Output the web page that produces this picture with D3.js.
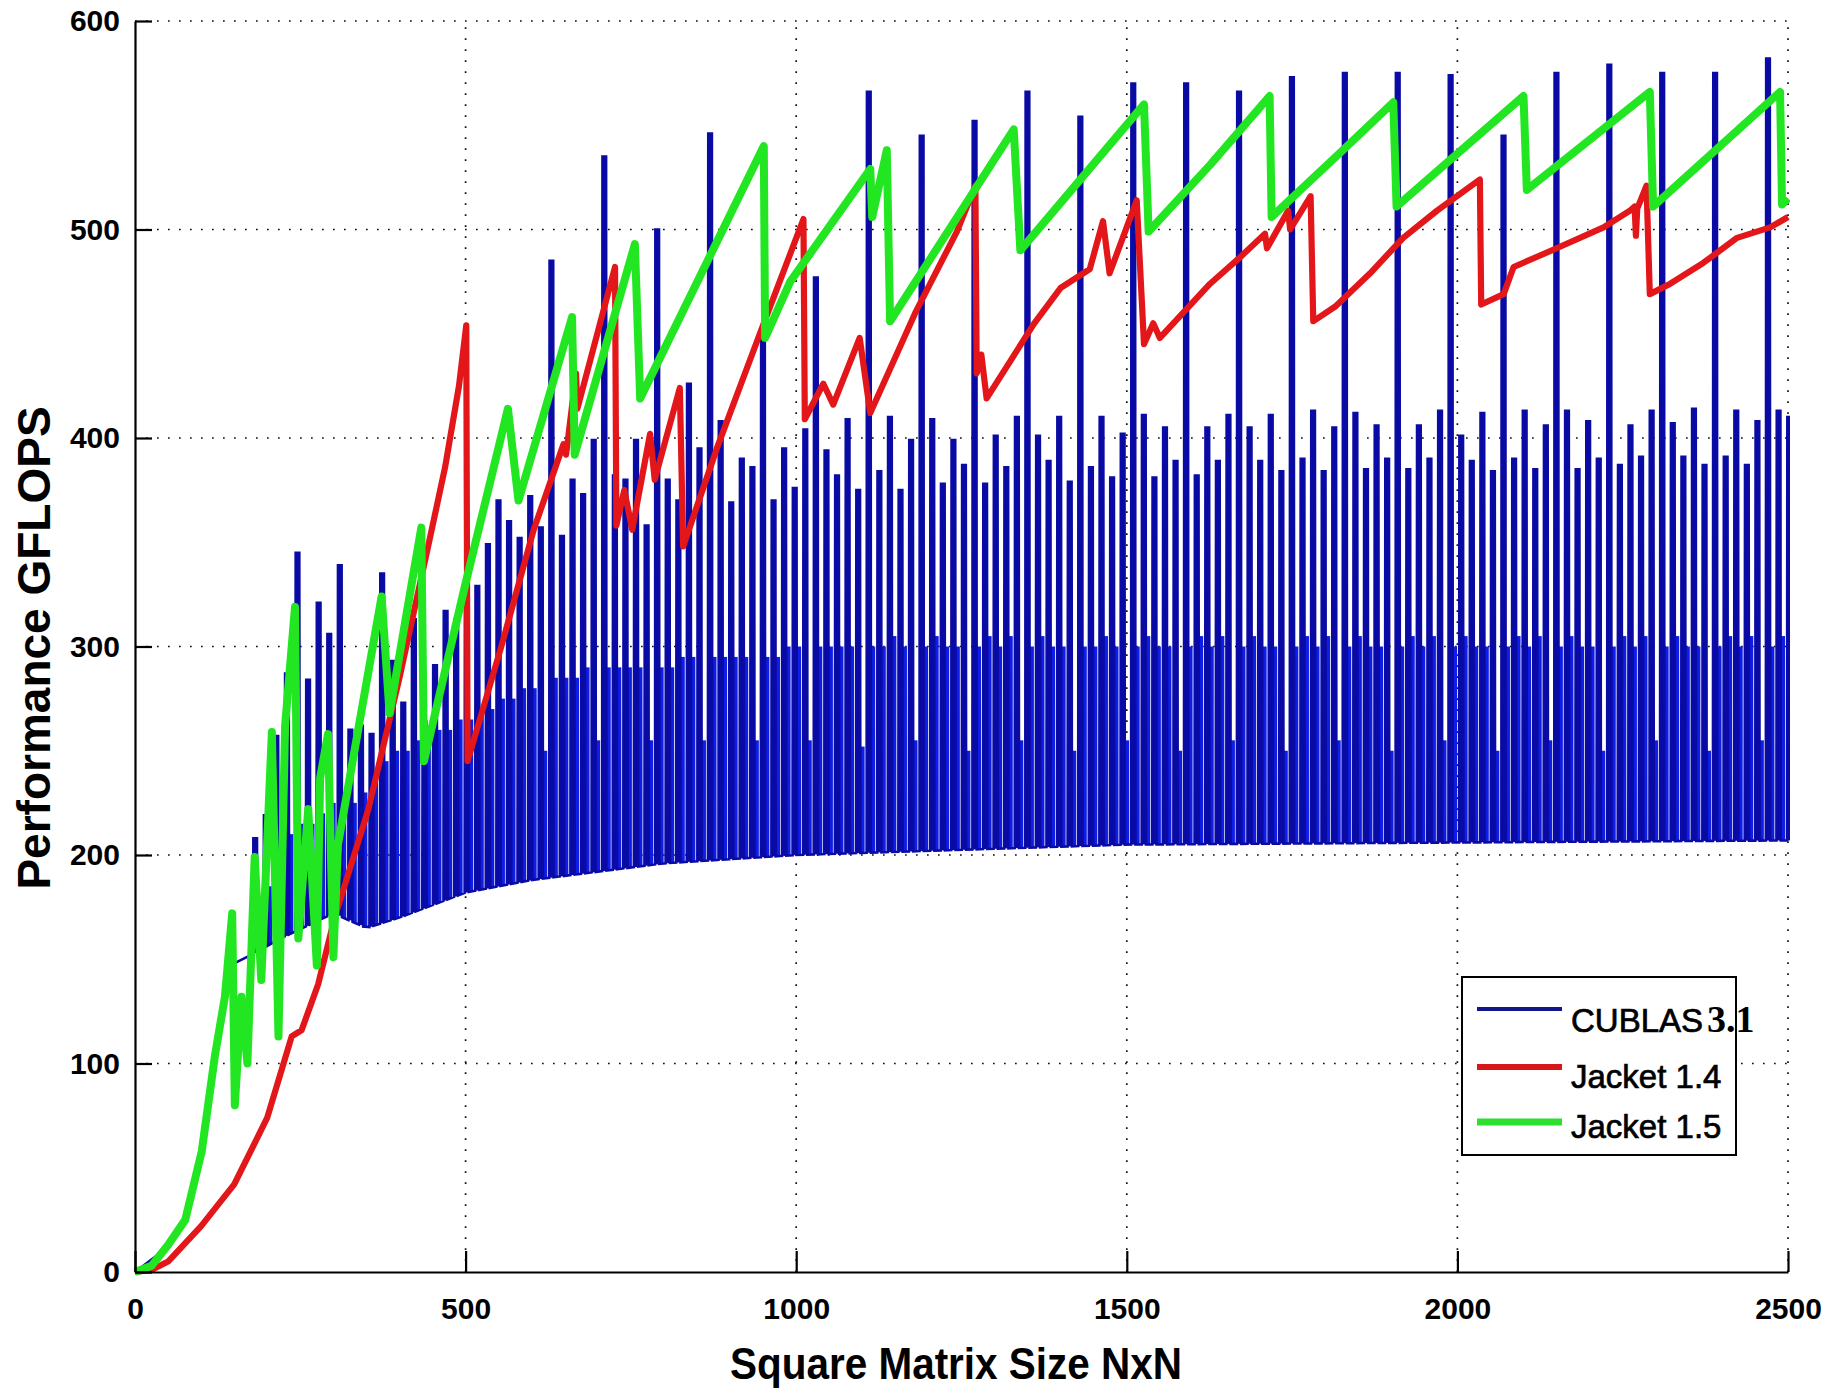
<!DOCTYPE html>
<html>
<head>
<meta charset="utf-8">
<script src="https://cdn.jsdelivr.net/npm/d3@7"></script>
<style>
body { margin: 0; background: #fff; }
text { font-family: "Liberation Sans", Arial, sans-serif; }
</style>
</head>
<body>
<div id="chart"></div>
<script>
var xTicks = [0, 500, 1000, 1500, 2000, 2500];
var yTicks = [0, 100, 200, 300, 400, 500, 600];
var seriesNames = ["CUBLAS", "Jacket 1.4", "Jacket 1.5"];

// CUBLAS 3.1: one spike every 16
var cublasPeakN = [
  180, 196, 212, 228, 244, 260, 276, 292, 308, 324,
  340, 356, 372, 388, 404, 420, 436, 452, 468, 484,
  500, 516, 532, 548, 564, 580, 596, 612, 628, 644,
  660, 676, 692, 708, 724, 740, 756, 772, 788, 804,
  820, 836, 852, 868, 884, 900, 916, 932, 948, 964,
  980, 996, 1012, 1028, 1044, 1060, 1076, 1092, 1108, 1124,
  1140, 1156, 1172, 1188, 1204, 1220, 1236, 1252, 1268, 1284,
  1300, 1316, 1332, 1348, 1364, 1380, 1396, 1412, 1428, 1444,
  1460, 1476, 1492, 1508, 1524, 1540, 1556, 1572, 1588, 1604,
  1620, 1636, 1652, 1668, 1684, 1700, 1716, 1732, 1748, 1764,
  1780, 1796, 1812, 1828, 1844, 1860, 1876, 1892, 1908, 1924,
  1940, 1956, 1972, 1988, 2004, 2020, 2036, 2052, 2068, 2084,
  2100, 2116, 2132, 2148, 2164, 2180, 2196, 2212, 2228, 2244,
  2260, 2276, 2292, 2308, 2324, 2340, 2356, 2372, 2388, 2404,
  2420, 2436, 2452, 2468, 2484, 2500
];
var cublasPeak = [
  208, 219, 257, 287, 345, 284, 321, 306, 339, 260,
  262, 258, 335, 293, 273, 313, 264, 291, 317, 313,
  331, 329, 349, 370, 360, 352, 372, 357, 485, 353,
  380, 373, 399, 535, 382, 380, 399, 358, 500, 380,
  370, 426, 395, 546, 408, 369, 390, 386, 452, 370,
  395, 376, 404, 477, 394, 382, 409, 375, 566, 384,
  410, 375, 399, 545, 409, 378, 399, 387, 552, 378,
  401, 386, 410, 566, 401, 389, 410, 379, 554, 386,
  410, 381, 402, 570, 411, 381, 405, 389, 570, 382,
  405, 389, 411, 566, 405, 389, 411, 384, 573, 390,
  413, 384, 405, 575, 412, 385, 406, 390, 575, 385,
  406, 390, 413, 574, 401, 389, 412, 384, 545, 390,
  413, 385, 406, 575, 413, 385, 408, 390, 579, 387,
  406, 391, 413, 575, 407, 391, 414, 387, 575, 391,
  413, 387, 408, 582, 413, 410
];
// top of the dense fill that follows each spike
var cublasBand = [
  175, 185, 200, 210, 215, 215, 220, 225, 230, 225,
  230, 240, 245, 250, 250, 255, 255, 260, 260, 265,
  265, 270, 270, 275, 275, 280, 280, 250, 285, 285,
  285, 290, 255, 290, 290, 290, 290, 255, 290, 290,
  295, 295, 255, 295, 295, 295, 295, 255, 295, 295,
  300, 300, 255, 300, 300, 300, 300, 252, 300, 300,
  305, 300, 255, 300, 305, 300, 300, 250, 300, 305,
  300, 305, 255, 300, 305, 300, 300, 250, 300, 300,
  305, 300, 255, 300, 305, 300, 300, 250, 300, 305,
  300, 305, 255, 300, 305, 300, 300, 250, 300, 305,
  300, 305, 255, 300, 305, 300, 300, 250, 300, 305,
  300, 305, 255, 300, 305, 300, 300, 250, 300, 305,
  300, 305, 255, 300, 305, 300, 300, 250, 300, 305,
  300, 305, 255, 300, 305, 300, 300, 250, 300, 305,
  300, 305, 255, 300, 305
];
var cublasFloorN = [0, 50, 76, 101, 121, 136, 150, 175, 220, 300, 350, 400, 500, 600, 800, 1000, 1500, 2000, 2500];
var cublasFloor = [0, 12, 24, 56, 100, 128, 148, 152, 160, 172, 165, 170, 182, 188, 196, 200, 205, 206, 207];

var jacket14N = [
  0, 25, 50, 100, 150, 200, 237, 252, 277, 302,
  353, 400, 444, 469, 490, 501, 503, 554, 603, 648,
  652, 667, 669, 726, 728, 740, 752, 779, 786, 824,
  829, 880, 945, 1011, 1013, 1041, 1056, 1096, 1112, 1180,
  1243, 1271, 1273, 1280, 1288, 1360, 1400, 1444, 1464, 1474,
  1515, 1526, 1540, 1550, 1626, 1669, 1709, 1712, 1744, 1747,
  1778, 1782, 1815, 1868, 1918, 1969, 2034, 2036, 2070, 2085,
  2150, 2221, 2261, 2268, 2270, 2272, 2286, 2291, 2322, 2372,
  2423, 2473, 2500
];
var jacket14 = [
  0, 1, 5, 22, 42, 74, 113, 116, 138, 170,
  222, 285, 349, 386, 425, 454, 245, 300, 356, 397,
  392, 431, 414, 482, 358, 375, 356, 402, 380, 424,
  348, 395, 450, 505, 409, 426, 416, 448, 412, 460,
  499, 521, 431, 440, 419, 455, 472, 481, 504, 479,
  514, 445, 455, 448, 474, 486, 498, 491, 509, 500,
  516, 456, 463, 479, 496, 509, 524, 464, 469, 482,
  491, 501, 509, 511, 497, 510, 521, 469, 474, 484,
  496, 501, 506
];

var jacket15N = [
  0, 25, 50, 76, 101, 121, 136, 147, 151, 161,
  170, 181, 191, 207, 217, 227, 242, 247, 262, 275,
  280, 292, 300, 307, 373, 385, 433, 437, 499, 564,
  580, 661, 665, 756, 764, 951, 953, 991, 1112, 1115,
  1137, 1142, 1329, 1339, 1526, 1533, 1626, 1716, 1719, 1820,
  1903, 1908, 2100, 2105, 2291, 2296, 2488, 2491, 2500
];
var jacket15 = [
  0, 3, 13, 25, 58, 104, 132, 172, 80, 132,
  100, 199, 140, 259, 113, 262, 319, 160, 222, 147,
  237, 258, 151, 205, 324, 268, 357, 245, 329, 414,
  370, 458, 392, 493, 419, 540, 448, 475, 529, 506,
  538, 456, 548, 490, 560, 499, 531, 564, 506, 536,
  561, 511, 564, 519, 566, 511, 566, 512, 515
];

var colors = { blue: "#0a0aa4", blueFill: "#0e1ee6", red: "#e3161a", green: "#22e622" };

var width = 1843, height = 1390;
var x = d3.scaleLinear().domain([0, 2500]).range([135, 1788]);
var y = d3.scaleLinear().domain([0, 600]).range([1272, 21]);
var floorAt = d3.scaleLinear().domain(cublasFloorN).range(cublasFloor);

var svg = d3.select("#chart").append("svg")
  .attr("width", width).attr("height", height)
  .style("background", "#fff");

svg.append("defs").append("clipPath").attr("id", "plot")
  .append("rect").attr("x", 132).attr("y", 15).attr("width", 1658).attr("height", 1262);

// dotted grid
var grid = svg.append("g").attr("stroke", "#111").attr("stroke-width", 1.7)
  .attr("stroke-dasharray", "1.7,9.3");
grid.selectAll(".gy").data(yTicks.slice(1)).enter().append("line")
  .attr("x1", x(0)).attr("x2", x(2500))
  .attr("y1", function(d) { return y(d); }).attr("y2", function(d) { return y(d); });
grid.selectAll(".gx").data(xTicks.slice(1)).enter().append("line")
  .attr("y1", y(0)).attr("y2", y(600))
  .attr("x1", function(d) { return x(d); }).attr("x2", function(d) { return x(d); });

var plot = svg.append("g").attr("clip-path", "url(#plot)");

// CUBLAS dense band after each spike
plot.selectAll(".band").data(cublasBand).enter().append("rect")
  .attr("class", "band")
  .attr("x", function(d, i) { return x(cublasPeakN[i] + 5); })
  .attr("width", function(d, i) { return x(cublasPeakN[i] + 11.5) - x(cublasPeakN[i] + 5); })
  .attr("y", function(d) { return y(d); })
  .attr("height", function(d, i) { return y(floorAt(cublasPeakN[i] + 8)) - y(d); })
  .attr("fill", colors.blueFill);

// CUBLAS spike bodies
plot.selectAll(".spike").data(cublasPeak).enter().append("rect")
  .attr("class", "spike")
  .attr("x", function(d, i) { return x(cublasPeakN[i] - 1.5); })
  .attr("width", function(d, i) { return x(cublasPeakN[i] + 5) - x(cublasPeakN[i] - 1.5); })
  .attr("y", function(d) { return y(d); })
  .attr("height", function(d, i) { return y(floorAt(cublasPeakN[i])) - y(d); })
  .attr("fill", colors.blue);

// CUBLAS line: floor, spike, back to floor
var bluePts = [];
cublasFloorN.forEach(function(n, i) {
  if (n < cublasPeakN[0] - 1) bluePts.push([n, cublasFloor[i]]);
});
cublasPeakN.forEach(function(n, i) {
  var p = cublasPeak[i];
  bluePts.push([n - 1.5, floorAt(n - 1.5)], [n - 1, p], [n + 4.5, p], [n + 5, floorAt(n + 5)]);
});

var line = d3.line()
  .x(function(d) { return x(d[0]); })
  .y(function(d) { return y(d[1]); });

plot.append("path").datum(bluePts)
  .attr("d", line).attr("fill", "none")
  .attr("stroke", colors.blue).attr("stroke-width", 2.6)
  .attr("stroke-linejoin", "miter");

plot.append("path").datum(jacket14N.map(function(n, i) { return [n, jacket14[i]]; }))
  .attr("d", line).attr("fill", "none")
  .attr("stroke", colors.red).attr("stroke-width", 6.2)
  .attr("stroke-linejoin", "round");

plot.append("path").datum(jacket15N.map(function(n, i) { return [n, jacket15[i]]; }))
  .attr("d", line).attr("fill", "none")
  .attr("stroke", colors.green).attr("stroke-width", 8)
  .attr("stroke-linejoin", "round");

// axes
var yAxis = d3.axisLeft(y).tickValues(yTicks).tickFormat(d3.format("d"))
  .tickSize(-17).tickSizeOuter(0).tickPadding(15);
var xAxis = d3.axisBottom(x).tickValues(xTicks).tickFormat(d3.format("d"))
  .tickSize(-21).tickSizeOuter(0).tickPadding(26);

var gy = svg.append("g").attr("transform", "translate(" + x(0) + ",0)").call(yAxis);
var gx = svg.append("g").attr("transform", "translate(0," + y(0) + ")").call(xAxis);

[gx, gy].forEach(function(g) {
  g.selectAll("path, line").attr("stroke", "#000").attr("stroke-width", 2.2);
  g.selectAll("text")
    .attr("font-family", "Liberation Sans, Arial, sans-serif")
    .attr("font-size", 30).attr("font-weight", "bold").attr("fill", "#000");
});

svg.append("text")
  .attr("x", 956).attr("y", 1379)
  .attr("text-anchor", "middle")
  .attr("font-size", 44).attr("font-weight", "bold")
  .attr("textLength", 452).attr("lengthAdjust", "spacingAndGlyphs")
  .text("Square Matrix Size NxN");

svg.append("text")
  .attr("transform", "translate(50,648) rotate(-90)")
  .attr("text-anchor", "middle")
  .attr("font-size", 46).attr("font-weight", "bold")
  .text("Performance GFLOPS");

// legend
var legend = svg.append("g");
legend.append("rect")
  .attr("x", 1462).attr("y", 977).attr("width", 274).attr("height", 178)
  .attr("fill", "#fff").attr("stroke", "#000").attr("stroke-width", 2);

var legendColors = ["#14148c", "#d81818", "#2ee02e"];
var legendWidths = [4, 6, 7];
var legendLineY = [1009, 1067, 1122];
var legendTextY = [1032, 1088, 1138];

seriesNames.forEach(function(name, i) {
  legend.append("line")
    .attr("x1", 1477).attr("x2", 1562)
    .attr("y1", legendLineY[i]).attr("y2", legendLineY[i])
    .attr("stroke", legendColors[i]).attr("stroke-width", legendWidths[i]);
  var t = legend.append("text")
    .attr("x", 1571).attr("y", legendTextY[i])
    .attr("font-size", 33).attr("fill", "#000")
    .attr("stroke", "#000").attr("stroke-width", 0.7)
    .text(name);
  if (i === 0) {
    t.append("tspan")
      .attr("font-family", "Liberation Serif, Times New Roman, serif")
      .attr("font-weight", "bold").attr("font-size", 38)
      .attr("stroke-width", 0)
      .attr("dx", 4)
      .text("3.1");
  }
});
</script>
</body>
</html>
